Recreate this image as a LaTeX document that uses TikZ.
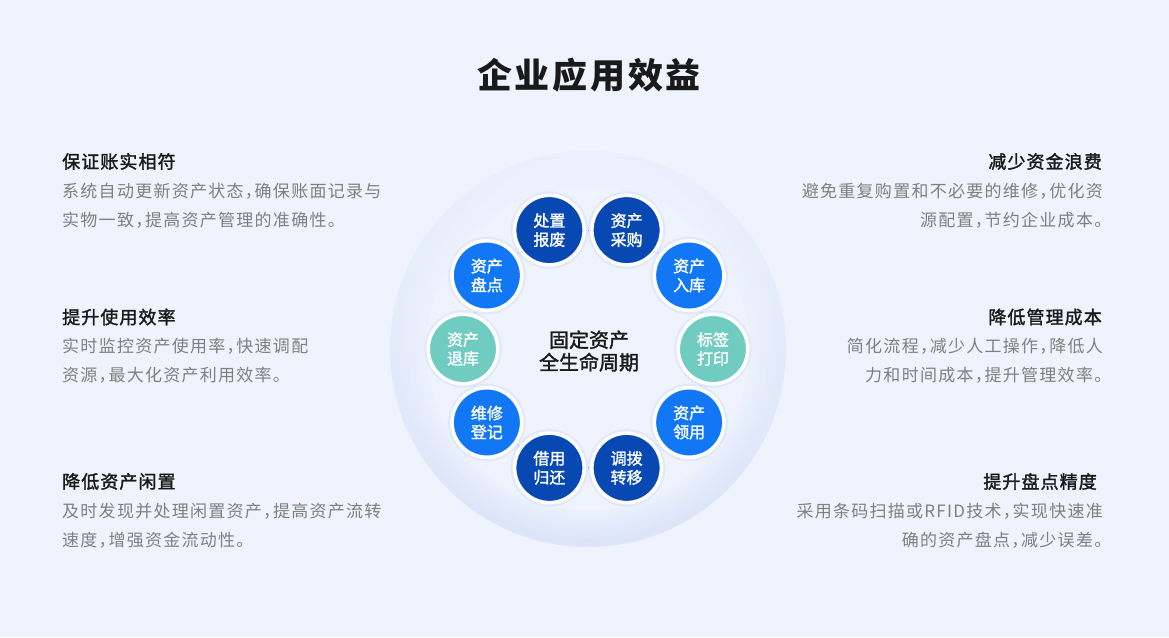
\documentclass[tikz,border=0pt]{standalone}
\usepackage{fontspec}
\setmainfont{Noto Sans CJK SC}
\newfontfamily\titlef{Noto Sans CJK SC}[LetterSpace=8]
\newfontfamily\headf{Noto Sans CJK SC}[LetterSpace=6,FakeBold=1.6]
\newfontfamily\bodyf{Noto Sans CJK SC}[LetterSpace=7.5,RawFeature=+halt]
\newfontfamily\ringf{Noto Sans CJK SC}[FakeBold=1.6]
\usetikzlibrary{calc,fadings}
\definecolor{bgc}{RGB}{238,243,253}
\definecolor{rimc}{RGB}{220,229,249}
\definecolor{darkb}{RGB}{8,72,178}
\definecolor{brightb}{RGB}{17,119,245}
\definecolor{tealc}{RGB}{112,203,193}
\definecolor{linkc}{RGB}{120,155,220}
\definecolor{headc}{RGB}{26,26,26}
\definecolor{bodyc}{RGB}{128,128,128}
\definecolor{haloc}{RGB}{214,225,247}
\tikzset{
  titlestyle/.style={font=\titlef\bfseries\fontsize{35}{40}\selectfont, text=headc, inner sep=0},
  headstyle/.style={font=\headf\fontsize{18}{22}\selectfont, text=headc, inner sep=0},
  bodystyle/.style={font=\bodyf\fontsize{17}{22}\selectfont, text=bodyc, inner sep=0},
  ringnode/.style={circle, minimum size=69.5pt, inner sep=0, draw=white, line width=3.5pt,
    text=white, align=center, font=\ringf\fontsize{16}{19}\selectfont,
    preaction={draw=haloc, line width=8pt, draw opacity=0.5}},
  centerstyle/.style={align=center, inner sep=0, text=headc, font=\ringf\fontsize{20}{22.5}\selectfont},
  link/.style={draw=linkc, line width=0.8pt}
}
\begin{document}
\begin{tikzpicture}[x=1pt,y=-1pt]
\useasboundingbox (0,0) rectangle (1169,637);
\fill[bgc] (0,0) rectangle (1169,637);
\coordinate (c) at (588,349);
% soft radial disc
\fill[rimc] (c) circle (198);
\foreach \k in {1,...,30}{
  \pgfmathsetmacro\rr{197.5-1.6*\k}
  \pgfmathtruncatemacro\pp{min(100,100*(\k/30)*(\k/30)+1.8*\k)}
  \fill[bgc!\pp!rimc] (c) circle (\rr);
}
% lighter upper part
\fill[bgc, path fading=south, fill opacity=0.8] (c) circle (198.5);
% title
\node[titlestyle] (title) at (589,75) {企业应用效益};
% left blocks
\node[headstyle, anchor=west] (h1) at (62,161.5) {保证账实相符};
\node[bodystyle, anchor=west] (b1a) at (62,191.5) {系统自动更新资产状态，确保账面记录与};
\node[bodystyle, anchor=west] (b1b) at (62,220) {实物一致，提高资产管理的准确性。};
\node[headstyle, anchor=west] (h2) at (62,317) {提升使用效率};
\node[bodystyle, anchor=west] (b2a) at (62,346.5) {实时监控资产使用率，快速调配};
\node[bodystyle, anchor=west] (b2b) at (62,375) {资源，最大化资产利用效率。};
\node[headstyle, anchor=west] (h3) at (62,481.5) {降低资产闲置};
\node[bodystyle, anchor=west] (b3a) at (62,511.5) {及时发现并处理闲置资产，提高资产流转};
\node[bodystyle, anchor=west] (b3b) at (62,540) {速度，增强资金流动性。};
% right blocks
\node[headstyle, anchor=east] (h4) at (1102,161.5) {减少资金浪费};
\node[bodystyle, anchor=east] (b4a) at (1103,191) {避免重复购置和不必要的维修，优化资};
\node[bodystyle, anchor=east] (b4b) at (1103,220) {源配置，节约企业成本。};
\node[headstyle, anchor=east] (h5) at (1102,317) {降低管理成本};
\node[bodystyle, anchor=east] (b5a) at (1103,346.5) {简化流程，减少人工操作，降低人};
\node[bodystyle, anchor=east] (b5b) at (1103,375) {力和时间成本，提升管理效率。};
\node[headstyle, anchor=east] (h6) at (1097,481.5) {提升盘点精度};
\node[bodystyle, anchor=east] (b6a) at (1103,511.5) {采用条码扫描或RFID技术，实现快速准};
\node[bodystyle, anchor=east] (b6b) at (1103,540) {确的资产盘点，减少误差。};
% ring
\foreach \a/\n/\col/\t in {
  0/n0/tealc/{标签\\打印},
  36/n1/brightb/{资产\\领用},
  72/n2/darkb/{调拨\\转移},
  108/n3/darkb/{借用\\归还},
  144/n4/brightb/{维修\\登记},
  180/n5/tealc/{资产\\退库},
  216/n6/brightb/{资产\\盘点},
  252/n7/darkb/{处置\\报废},
  288/n8/darkb/{资产\\采购},
  324/n9/brightb/{资产\\入库}}
  \node[ringnode, fill=\col] (\n) at ($(c)+(\a:125)$) {\t};
\foreach \i/\j in {0/1,1/2,2/3,3/4,4/5,5/6,6/7,7/8,8/9,9/0}
  \draw[link, shorten <=2.5pt, shorten >=2.5pt] (n\i) -- (n\j);
\node[centerstyle] (ct) at (589,351) {固定资产\\全生命周期};
\end{tikzpicture}
\end{document}
